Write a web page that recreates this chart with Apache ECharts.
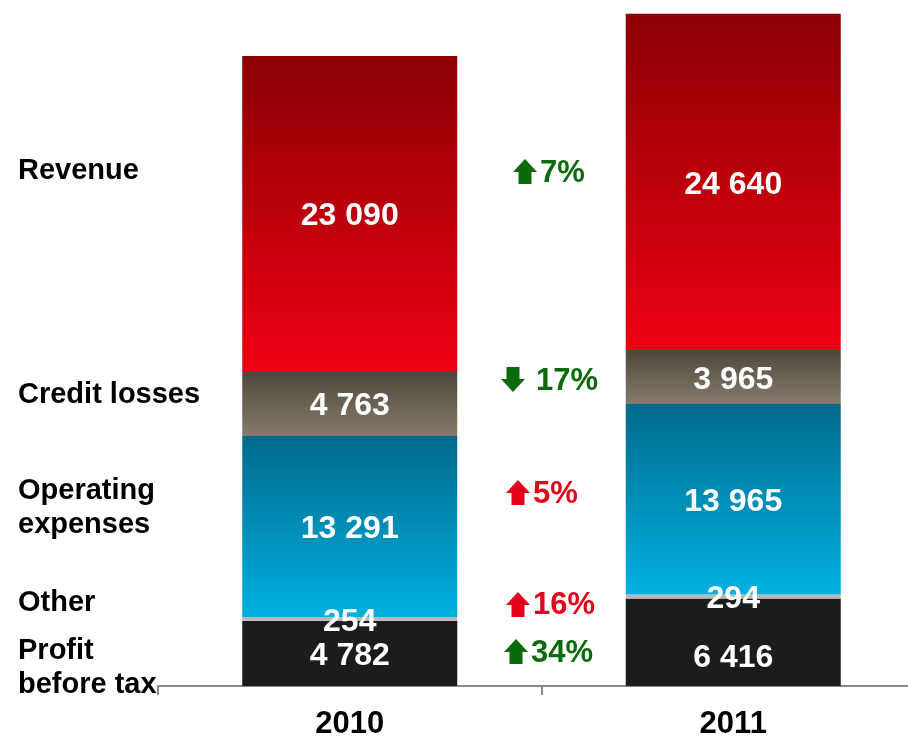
<!DOCTYPE html>
<html>
<head>
<meta charset="utf-8">
<title>Revenue to profit before tax, 2010–2011</title>
<script src="https://cdn.jsdelivr.net/npm/echarts@6/dist/echarts.min.js"></script>
<style>
  html, body { margin: 0; padding: 0; background: #ffffff; }
  #chart { width: 908px; height: 739px; }
</style>
</head>
<body>
<div id="chart"></div>
<script>
// Years on the category axis
const years = ['2010', '2011'];

// Segment values (stacked bottom to top)
const profitBeforeTax = [4782, 6416];
const other = [254, 294];
const operatingExpenses = [13291, 13965];
const creditLosses = [4763, 3965];
const revenue = [23090, 24640];

// Row captions on the left
const rowCaptions = ['Revenue', 'Credit losses', 'Operating\nexpenses', 'Other', 'Profit\nbefore tax'];

// Year-on-year change for each row
const changeText = ['7%', '17%', '5%', '16%', '34%'];
const changeDirection = ['up', 'down', 'up', 'up', 'up'];
const changeFavourable = [true, true, false, false, true];

const FONT = '"Liberation Sans", Arial, Helvetica, sans-serif';
const GREEN = '#0b6b0b';
const RED = '#e2001a';

function vGrad(top, bottom) {
  return new echarts.graphic.LinearGradient(0, 0, 0, 1, [
    { offset: 0, color: top },
    { offset: 1, color: bottom }
  ]);
}

const fmt = v => String(v).replace(/\B(?=(\d{3})+(?!\d))/g, ' ');

const valueLabel = {
  show: true,
  position: 'inside',
  offset: [0, 3],
  color: '#ffffff',
  fontFamily: FONT,
  fontWeight: 'bold',
  fontSize: 32,
  formatter: p => fmt(p.value)
};

function barSeries(name, values, color, extra) {
  return Object.assign({
    name: name,
    type: 'bar',
    stack: 'total',
    barWidth: 215,
    data: values.slice(),
    itemStyle: { color: color },
    label: valueLabel,
    emphasis: { disabled: true },
    silent: true
  }, extra || {});
}

const chart = echarts.init(document.getElementById('chart'), null, { renderer: 'canvas' });

// Profit label in 2011 sits a little below the segment middle
const profitData = profitBeforeTax.map((v, i) =>
  i === 1 ? { value: v, label: { offset: [0, 16] } } : v);

// Left-hand captions and the change column (text + block arrow)
const captionLayout = [
  { x: 18, y: 171 },
  { x: 18, y: 395 },
  { x: 18, y: 508 },
  { x: 18, y: 603 },
  { x: 18, y: 668 }
];
const changeLayout = [
  { ax: 525, ay: 159, tx: 540, ty: 173 },
  { ax: 513, ay: 367, tx: 536, ty: 381 },
  { ax: 518, ay: 480, tx: 533, ty: 494 },
  { ax: 518, ay: 592, tx: 533, ty: 605 },
  { ax: 516, ay: 639, tx: 531, ty: 653 }
];

function arrowPoints(cx, top, dir) {
  const w = 12, head = 13, h = 25, s = 6.5;
  let pts = [[0, 0], [w, head], [s, head], [s, h], [-s, h], [-s, head], [-w, head]];
  if (dir === 'down') pts = pts.map(p => [p[0], h - p[1]]);
  return pts.map(p => [cx + p[0], top + p[1]]);
}

const graphics = [];
rowCaptions.forEach((t, i) => {
  graphics.push({
    type: 'text',
    silent: true,
    style: {
      x: captionLayout[i].x,
      y: captionLayout[i].y,
      text: t,
      font: 'bold 29px ' + FONT,
      lineHeight: 34,
      fill: '#000000',
      verticalAlign: 'middle',
      align: 'left'
    }
  });
});
changeText.forEach((t, i) => {
  const c = changeFavourable[i] ? GREEN : RED;
  const L = changeLayout[i];
  graphics.push({
    type: 'polygon',
    silent: true,
    shape: { points: arrowPoints(L.ax, L.ay, changeDirection[i]) },
    style: { fill: c }
  });
  graphics.push({
    type: 'text',
    silent: true,
    style: {
      x: L.tx,
      y: L.ty,
      text: t,
      font: 'bold 31px ' + FONT,
      fill: c,
      verticalAlign: 'middle',
      align: 'left'
    }
  });
});

chart.setOption({
  animation: false,
  backgroundColor: '#ffffff',
  // Plot area runs past the right edge of the canvas
  grid: {
    left: 158, width: 767, top: 0, bottom: 53,
    containLabel: false,
    outerBoundsMode: 'none'
  },
  xAxis: {
    type: 'category',
    data: years,
    axisLine: { lineStyle: { color: '#8a8a8a', width: 2 } },
    axisTick: { show: true, length: 9, lineStyle: { color: '#8a8a8a', width: 2 } },
    axisLabel: {
      color: '#000000',
      fontFamily: FONT,
      fontWeight: 'bold',
      fontSize: 31,
      margin: 23
    }
  },
  yAxis: {
    type: 'value',
    min: 0,
    max: 50290,
    show: false,
    splitLine: { show: false }
  },
  series: [
    barSeries('Profit before tax', profitData, '#1d1b1c'),
    barSeries('Other', other, '#b9b9b9'),
    barSeries('Operating expenses', operatingExpenses, vGrad('#006a8c', '#00b0e1')),
    barSeries('Credit losses', creditLosses, vGrad('#4d473b', '#867c6b')),
    barSeries('Revenue', revenue, vGrad('#8b0004', '#ed0012'))
  ],
  graphic: graphics
});
</script>
</body>
</html>
